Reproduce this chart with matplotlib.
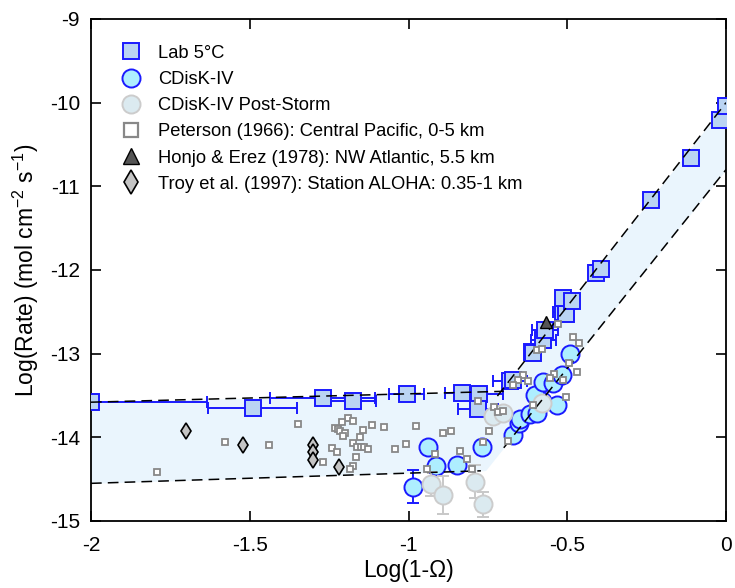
import matplotlib
matplotlib.use("Agg")
import matplotlib.pyplot as plt
import numpy as np

plt.rcParams['font.family'] = ['Liberation Sans', 'DejaVu Sans']
plt.rcParams['mathtext.fontset'] = 'custom'
plt.rcParams['mathtext.rm'] = 'Liberation Sans'
plt.rcParams['mathtext.it'] = 'Liberation Sans:italic'

# ---------------- data ----------------
lab_x = [-2.0, -1.49, -1.27, -1.174, -1.006, -0.833, -0.777, -0.78, -0.68, -0.672,
         -0.612, -0.607, -0.575, -0.57, -0.514, -0.504, -0.512, -0.486, -0.411,
         -0.394, -0.237, -0.11, -0.019, -0.001]
lab_y = [-13.58, -13.65, -13.53, -13.57, -13.48, -13.47, -13.48, -13.66, -13.33, -13.31,
         -12.98, -12.99, -12.84, -12.72, -12.50, -12.52, -12.34, -12.37, -12.04,
         -11.99, -11.16, -10.66, -10.21, -10.04]
lab_xerr = [0.365, 0.14, 0.165, 0.072, 0.055, 0.052, 0.075, 0.063, 0.054, 0.0,
            0.02, 0.0, 0.04, 0.04, 0.03, 0.0, 0.0, 0.0, 0.0,
            0.0, 0.0, 0.0, 0.0, 0.0]

cdisk_x = [-0.987, -0.938, -0.913, -0.846, -0.769, -0.672, -0.651, -0.649, -0.617,
           -0.596, -0.58, -0.602, -0.575, -0.546, -0.518, -0.533, -0.491]
cdisk_y = [-14.59, -14.11, -14.34, -14.33, -14.12, -13.97, -13.83, -13.78, -13.72,
           -13.71, -13.57, -13.49, -13.34, -13.35, -13.25, -13.61, -13.0]
cdisk_yerr = [0.195, 0, 0, 0, 0, 0, 0, 0, 0, 0, 0, 0, 0, 0, 0, 0, 0]

storm_x = [-0.929, -0.89, -0.79, -0.766, -0.733, -0.701, -0.58]
storm_y = [-14.56, -14.69, -14.53, -14.80, -13.74, -13.71, -13.59]
storm_yerr = [0.14, 0.23, 0.2, 0.15, 0, 0, 0]

pet_x = [-1.347, -1.19, -1.174, -1.21, -1.232, -1.221, -1.216, -1.20, -1.205, -1.142,
         -1.116, -1.076, -0.976, -1.153, -1.176, -1.163, -1.15, -1.14, -1.127, -1.24,
         -1.226, -1.043, -1.008, -1.165, -1.268, -1.174, -1.184, -0.943, -0.917,
         -1.578, -1.439, -1.793, -0.89, -0.866, -0.746, -0.764, -0.838, -0.817,
         -0.801, -0.78, -0.73, -0.717, -0.701, -0.686,
         -0.528, -0.481, -0.462, -0.494, -0.47, -0.542, -0.554, -0.514, -0.504,
         -0.64, -0.654, -0.623, -0.67, -0.609, -0.596, -0.58]
pet_y = [-13.84, -13.77, -13.80, -13.82, -13.89, -13.90, -13.92, -13.95, -13.99, -13.91,
         -13.85, -13.88, -13.86, -14.00, -14.07, -14.11, -14.11, -14.12, -14.14, -14.13,
         -14.18, -14.14, -14.08, -14.24, -14.29, -14.34, -14.38, -14.38, -14.20,
         -14.06, -14.09, -14.41, -13.95, -13.92, -13.92, -14.06, -14.16, -14.26,
         -14.38, -13.57, -13.64, -13.70, -13.69, -14.04,
         -12.64, -12.80, -12.87, -13.11, -13.22, -13.24, -13.29, -13.31, -13.52,
         -13.25, -13.31, -13.33, -13.37, -13.61, -12.96, -12.95]

honjo_x = [-0.567]
honjo_y = [-12.62]

troy_x = [-1.70, -1.52, -1.30, -1.30, -1.30, -1.22]
troy_y = [-13.93, -14.09, -14.09, -14.18, -14.27, -14.35]

# fit lines
up_flat = (-13.58, 0.10)     # y = a + b*(x+2)
lo_flat = (-14.55, 0.122)
up_steep = (-10.0, 4.87)     # y = a + b*x
lo_steep = (-10.8, 4.75)

# ---------------- figure ----------------
fig = plt.figure(figsize=(7.35, 5.88), dpi=100)
ax = fig.add_axes([91/735, 1-521/588, 635/735, 502/588])

xx = np.linspace(-2, 0, 400)
uf = up_flat[0] + up_flat[1]*(xx+2)
lf = lo_flat[0] + lo_flat[1]*(xx+2)
us = up_steep[0] + up_steep[1]*xx
ls = lo_steep[0] + lo_steep[1]*xx
ax.fill_between(xx, np.maximum(lf, ls), np.maximum(uf, us), color='#eaf5fd', lw=0, zorder=1)

blue = '#1a1aff'
# Lab
ax.errorbar(lab_x, lab_y, xerr=lab_xerr, fmt='none', ecolor=blue, elinewidth=1.4,
            capsize=4, capthick=1.4, zorder=3)
ax.plot(lab_x, lab_y, 's', ms=11.5, mfc='#bad4f3', mec=blue, mew=1.4, ls='none',
        zorder=4, label='Lab 5°C')
# CDisK
ax.errorbar(cdisk_x, cdisk_y, yerr=cdisk_yerr, fmt='none', ecolor=blue, elinewidth=1.4,
            capsize=4, capthick=1.4, zorder=4)
ax.plot(cdisk_x, cdisk_y, 'o', ms=13, mfc='#aeeeff', mec=blue, mew=1.4, ls='none',
        zorder=5, label='CDisK-IV')
# post storm
ax.errorbar(storm_x, storm_y, yerr=storm_yerr, fmt='none', ecolor='#c8c8c8', elinewidth=1.4,
            capsize=4, capthick=1.4, zorder=5)
ax.plot(storm_x, storm_y, 'o', ms=13, mfc='#dbeaf0', mec='#cccccc', mew=1.4, ls='none',
        zorder=6, label='CDisK-IV Post-Storm')

# dashed fits
dash = dict(color='black', lw=1.1, dashes=(7, 4), zorder=7)
xa = np.array([-2, -0.70]); ax.plot(xa, up_flat[0] + up_flat[1]*(xa+2), **dash)
xa = np.array([-0.72, 0]); ax.plot(xa, up_steep[0] + up_steep[1]*xa, **dash)
xa = np.array([-2, -0.772]); ax.plot(xa, lo_flat[0] + lo_flat[1]*(xa+2), **dash)
xa = np.array([-0.70, 0]); ax.plot(xa, lo_steep[0] + lo_steep[1]*xa, **dash)

ax.plot(pet_x, pet_y, 's', ms=5, mfc='white', mec='#888888', mew=1.3, ls='none',
        zorder=8, label='Peterson (1966): Central Pacific, 0-5 km')
ax.plot(honjo_x, honjo_y, '^', ms=9, mfc='#555555', mec='black', mew=1.0, ls='none',
        zorder=9, label='Honjo & Erez (1978): NW Atlantic, 5.5 km')
ax.plot(troy_x, troy_y, 'd', ms=8.5, mfc='#c4c4c4', mec='black', mew=1.2, ls='none',
        zorder=9, label='Troy et al. (1997): Station ALOHA: 0.35-1 km')

ax.set_xlim(-2, 0)
ax.set_ylim(-15, -9)
ax.set_xticks([-2, -1.5, -1, -0.5, 0])
ax.set_xticklabels(['-2', '-1.5', '-1', '-0.5', '0'])
ax.set_yticks([-15, -14, -13, -12, -11, -10, -9])
ax.set_yticklabels(['-15', '-14', '-13', '-12', '-11', '-10', '-9'])
ax.tick_params(axis='both', direction='in', length=7, width=1.2, top=True, right=True,
               labelsize=15)
ax.tick_params(axis='x', pad=11)
ax.tick_params(axis='y', pad=8)
for s in ax.spines.values():
    s.set_linewidth(1.3)

ax.set_xlabel('Log(1-Ω)', fontsize=16.5, labelpad=3)
ax.set_ylabel('Log(Rate) (mol cm$^{-2}$ s$^{-1}$)', fontsize=16.5, labelpad=6)

leg = ax.legend(loc='upper left', frameon=False, fontsize=13.2, handletextpad=0.85,
                labelspacing=0.5, borderaxespad=0.6, handlelength=1.2,
                bbox_to_anchor=(0.017, 0.985))
leg_sizes = [11.5, 13, 13, 10.5, 11, 12]
leg_mew = [1.4, 1.4, 1.4, 1.6, 1.0, 1.2]
for h, s, w in zip(leg.legend_handles, leg_sizes, leg_mew):
    h.set_markersize(s)
    h.set_markeredgewidth(w)

fig.savefig('out.png', dpi=100)
